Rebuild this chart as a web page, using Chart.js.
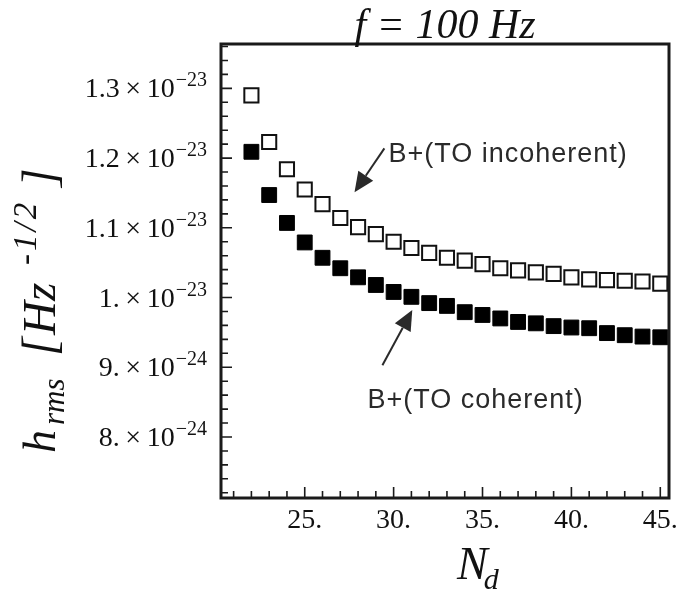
<!DOCTYPE html>
<html>
<head>
<meta charset="utf-8">
<script src="https://cdn.jsdelivr.net/npm/chart.js@4.4.1/dist/chart.umd.min.js"></script>
<style>
  html, body { margin: 0; padding: 0; background: #fff; }
  canvas { display: block; }
</style>
</head>
<body>
<canvas id="ndplot" width="681" height="591"></canvas>
<script>
// number of detectors N_d
const nd = [22, 23, 24, 25, 26, 27, 28, 29, 30, 31, 32, 33, 34, 35, 36, 37, 38, 39, 40, 41, 42, 43, 44, 45]
// h_rms for B+(TO incoherent), open squares
const incoherent = [12.90e-24, 12.23e-24, 11.84e-24, 11.55e-24, 11.34e-24, 11.14e-24, 11.01e-24, 10.91e-24,
  10.80e-24, 10.71e-24, 10.64e-24, 10.57e-24, 10.53e-24, 10.48e-24, 10.42e-24, 10.39e-24,
  10.36e-24, 10.34e-24, 10.29e-24, 10.26e-24, 10.25e-24, 10.24e-24, 10.23e-24, 10.20e-24]
// h_rms for B+(TO coherent), filled squares
const coherent = [12.09e-24, 11.47e-24, 11.07e-24, 10.79e-24, 10.57e-24, 10.42e-24, 10.29e-24, 10.18e-24,
  10.08e-24, 10.01e-24, 9.92e-24, 9.88e-24, 9.79e-24, 9.75e-24, 9.70e-24, 9.65e-24,
  9.63e-24, 9.59e-24, 9.57e-24, 9.56e-24, 9.49e-24, 9.46e-24, 9.44e-24, 9.43e-24]

const xTicks = [25, 30, 35, 40, 45]
const xTickLabels = ['25.', '30.', '35.', '40.', '45.']
const yTicks = [8e-24, 9e-24, 1e-23, 1.1e-23, 1.2e-23, 1.3e-23]
const yTickMant = ['8.', '9.', '1.', '1.1', '1.2', '1.3']
const yTickExp = ['\u221224', '\u221224', '\u221223', '\u221223', '\u221223', '\u221223']

// annotations in data units: text, text x, text y, arrow tail x, tail y, tip x, tip y
const notes = [
  ['B+(TO incoherent)', 29.71, 11.95e-24, 29.48, 12.14e-24, 27.80, 11.51e-24],
  ['B+(TO coherent)', 28.53, 8.41e-24, 29.37, 9.03e-24, 31.05, 9.82e-24]
]

function arrow(ctx, x0, y0, x1, y1) {
  const ang = Math.atan2(y1 - y0, x1 - x0)
  const hl = 20, hw = 9
  const bx = x1 - Math.cos(ang) * hl, by = y1 - Math.sin(ang) * hl
  ctx.beginPath()
  ctx.moveTo(x0, y0)
  ctx.lineTo(bx, by)
  ctx.stroke()
  ctx.beginPath()
  ctx.moveTo(x1, y1)
  ctx.lineTo(bx + Math.sin(ang) * hw, by - Math.cos(ang) * hw)
  ctx.lineTo(bx - Math.sin(ang) * hw, by + Math.cos(ang) * hw)
  ctx.closePath()
  ctx.fill()
}

const framePlugin = {
  id: 'frame',
  afterDatasetsDraw(chart) {
    const ctx = chart.ctx
    const a = chart.chartArea
    const xs = chart.scales.x, ys = chart.scales.y
    ctx.save()
    ctx.strokeStyle = '#1a1a1a'
    ctx.fillStyle = '#111'

    // inward ticks
    ctx.lineWidth = 1.6
    ctx.beginPath()
    for (let n = 21; n <= 45; n++) {
      const px = xs.getPixelForValue(n)
      const len = n % 5 == 0 ? 11 : 7
      ctx.moveTo(px, a.bottom)
      ctx.lineTo(px, a.bottom - len)
    }
    for (let k = 36; k <= 68; k++) {
      const py = ys.getPixelForValue(k * 0.2e-24)
      const len = k % 5 == 0 ? 11 : 7
      ctx.moveTo(a.left, py)
      ctx.lineTo(a.left + len, py)
    }
    ctx.stroke()

    // frame
    ctx.lineWidth = 3
    ctx.strokeRect(a.left, a.top, a.right - a.left, a.bottom - a.top)

    // y tick labels  m x 10^e
    ctx.textAlign = 'left'
    ctx.textBaseline = 'alphabetic'
    yTicks.forEach(function (v, i) {
      const py = ys.getPixelForValue(v)
      const right = a.left - 14
      ctx.font = '20px "Liberation Serif"'
      const ew = ctx.measureText(yTickExp[i]).width
      ctx.font = '28px "Liberation Serif"'
      const m = yTickMant[i] + '\u2009\u00d7\u200910'
      const mw = ctx.measureText(m).width
      ctx.fillText(m, right - ew - 1 - mw, py + 9)
      ctx.font = '20px "Liberation Serif"'
      ctx.fillText(yTickExp[i], right - ew, py - 2)
    })

    // x tick labels
    ctx.textAlign = 'center'
    ctx.font = '28px "Liberation Serif"'
    xTicks.forEach(function (v, i) {
      ctx.fillText(xTickLabels[i], xs.getPixelForValue(v), a.bottom + 30)
    })

    // title
    ctx.font = 'italic 42px "Liberation Serif"'
    ctx.fillText('f = 100 Hz', (a.left + a.right) / 2, 38)

    // x axis title N_d
    ctx.textAlign = 'left'
    ctx.font = 'italic 46px "Liberation Serif"'
    const nw = ctx.measureText('N').width
    ctx.fillText('N', 457, 579)
    ctx.font = 'italic 30px "Liberation Serif"'
    ctx.fillText('d', 457 + nw - 4, 589)

    // y axis title h_rms [Hz^-1/2], rotated; offsets along the text
    ctx.save()
    ctx.translate(55, 453)
    ctx.rotate(-Math.PI / 2)
    const parts = [['h', 46, 0, 0], ['rms', 31, 9, 28], ['[', 48, 0, 97], ['Hz', 47, 0, 118],
      ['-1/2', 33, -19, 188], [']', 48, 0, 266]]
    parts.forEach(function (p) {
      ctx.font = 'italic ' + p[1] + 'px "Liberation Serif"'
      ctx.letterSpacing = p[0] == '-1/2' ? '3px' : '0px'
      ctx.fillText(p[0], p[3], p[2])
    })
    ctx.letterSpacing = '0px'
    ctx.restore()

    // annotations
    ctx.fillStyle = '#2a2a2a'
    ctx.strokeStyle = '#2a2a2a'
    ctx.lineWidth = 2
    ctx.font = '27px "Liberation Sans"'
    ctx.letterSpacing = '1px'
    notes.forEach(function (n) {
      ctx.fillText(n[0], xs.getPixelForValue(n[1]), ys.getPixelForValue(n[2]))
      arrow(ctx, xs.getPixelForValue(n[3]), ys.getPixelForValue(n[4]),
        xs.getPixelForValue(n[5]), ys.getPixelForValue(n[6]))
    })
    ctx.restore()
  }
}

new Chart(document.getElementById('ndplot'), {
  type: 'scatter',
  data: {
    datasets: [{
      label: 'B+(TO incoherent)',
      data: nd.map(function (n, i) { return { x: n, y: incoherent[i] } }),
      pointStyle: 'rect',
      pointRadius: 10,
      backgroundColor: '#fff',
      borderColor: '#111',
      borderWidth: 2
    }, {
      label: 'B+(TO coherent)',
      data: nd.map(function (n, i) { return { x: n, y: coherent[i] } }),
      pointStyle: 'rect',
      pointRadius: 10.5,
      backgroundColor: '#000',
      borderColor: '#000',
      borderWidth: 1
    }]
  },
  options: {
    responsive: false,
    animation: false,
    layout: { padding: { left: 221, top: 44, right: 10, bottom: 93 } },
    plugins: { legend: { display: false }, tooltip: { enabled: false } },
    scales: {
      x: { type: 'linear', min: 20.29, max: 45.49, display: false },
      y: { type: 'linear', min: 7.125e-24, max: 13.636e-24, display: false }
    }
  },
  plugins: [framePlugin]
})
</script>
</body>
</html>
